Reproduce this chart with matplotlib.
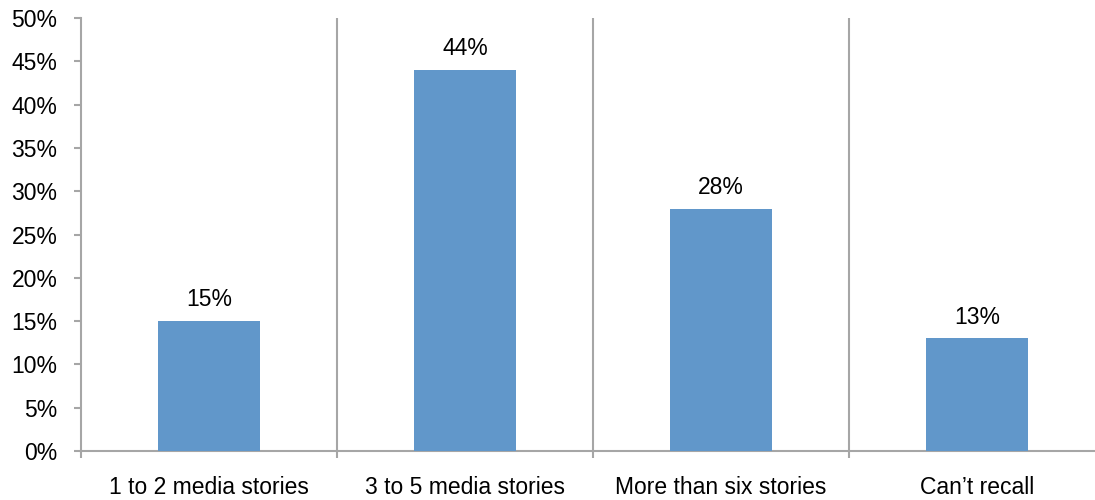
import numpy as np
import matplotlib
matplotlib.use("Agg")
import matplotlib.pyplot as plt

categories = ["1 to 2 media stories", "3 to 5 media stories", "More than six stories", "Can\u2019t recall"]
values = [15, 44, 28, 13]
yticks = [0, 5, 10, 15, 20, 25, 30, 35, 40, 45, 50]

bar_color = "#6197CA"
axis_gray = "#A6A6A6"

plt.rcParams["font.family"] = ["Liberation Sans", "DejaVu Sans"]

fig = plt.figure(figsize=(10.95, 5.0), dpi=100)
# right edge of plot area runs just past the image edge, as in the source
ax = fig.add_axes([81 / 1095, 49 / 500, 1024 / 1095, 433 / 500])

x = np.arange(len(categories))
ax.bar(x, values, width=0.4, color=bar_color, zorder=3)
for xi, v in zip(x, values):
    ax.annotate(f"{v}%", (xi, v), xytext=(0, 7), textcoords="offset points",
                ha="center", va="bottom", fontsize=16.5, color="black")

ax.set_xlim(-0.5, len(categories) - 0.5)
ax.set_ylim(0, 50)

# category separators
for b in np.arange(0.5, len(categories) - 0.5, 1):
    ax.axvline(b, color=axis_gray, lw=1.5, zorder=1)

ax.set_yticks(yticks)
ax.set_yticklabels([f"{t}%" for t in yticks])
ax.tick_params(axis="y", direction="out", length=5, width=1.5, color=axis_gray,
               pad=12, labelsize=16.5)

ax.set_xticks(x)
ax.set_xticklabels(categories)
ax.set_xticks(np.arange(-0.5, len(categories) + 0.5, 1), minor=True)
ax.tick_params(axis="x", which="major", length=0, pad=18, labelsize=16.5)
ax.tick_params(axis="x", which="minor", direction="out", length=5, width=1.5, color=axis_gray)

for s in ["top", "right"]:
    ax.spines[s].set_visible(False)
for s in ["left", "bottom"]:
    ax.spines[s].set_color(axis_gray)
    ax.spines[s].set_linewidth(1.5)

fig.savefig("out.png", dpi=100)
